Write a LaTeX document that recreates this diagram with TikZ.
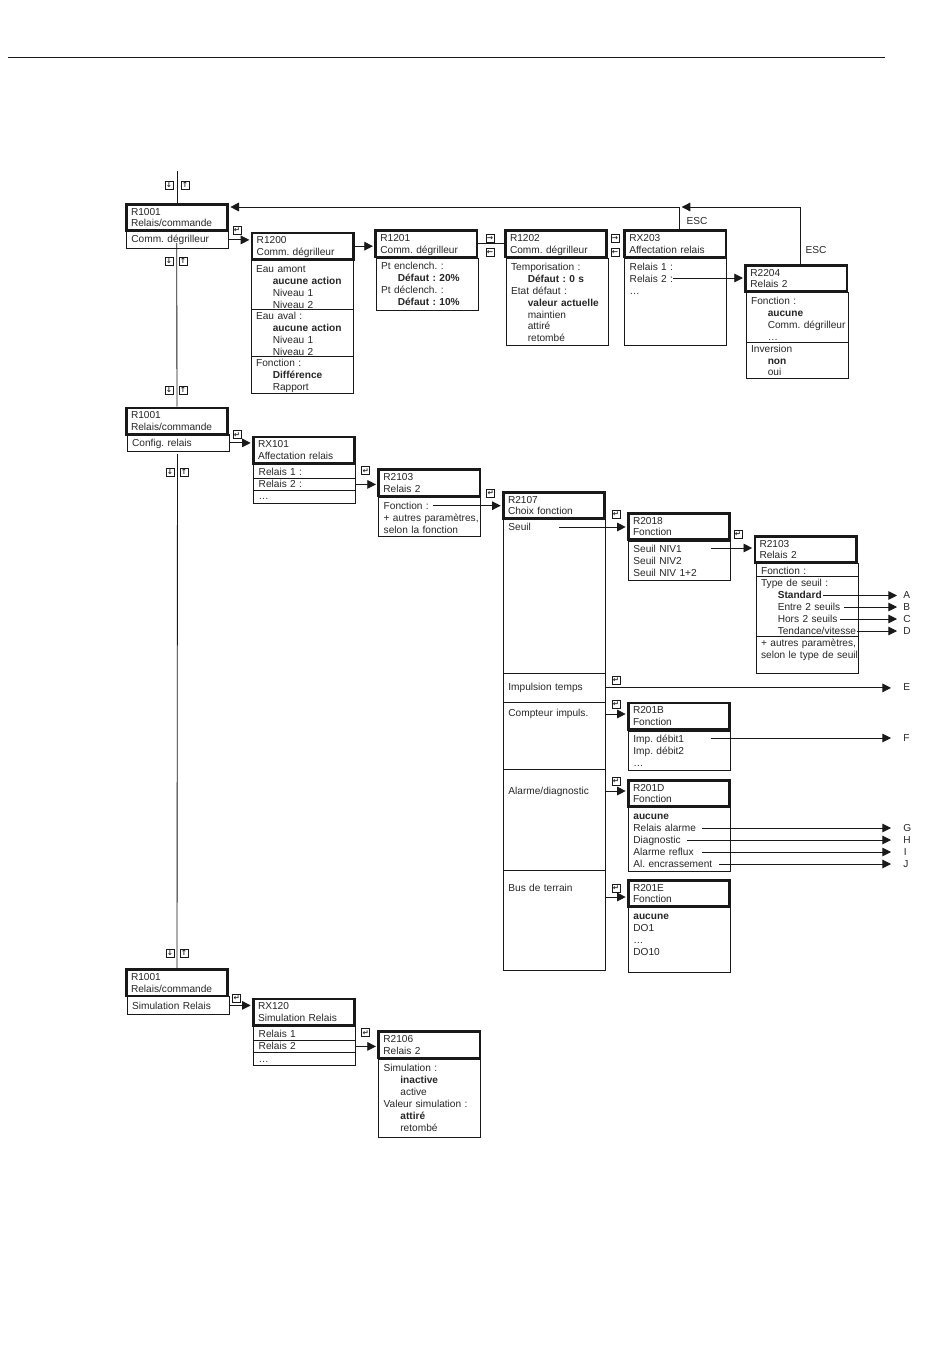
\documentclass[tikz,border=0pt]{standalone}
\usepackage{fontspec}
\setmainfont{Liberation Sans}
\newfontfamily\symfont{DejaVu Sans}
\usetikzlibrary{arrows.meta,positioning,calc}
\newcommand{\ind}{\hspace*{12.5pt}}

\begin{document}
\begin{tikzpicture}[
    x=0.75pt, y=-0.75pt,
    every node/.style={font=\fontsize{7.6}{8.9}\selectfont\frenchspacing, text=black!85},
    headbox/.style={draw=black!90, line width=2pt, anchor=north west, inner xsep=3.5pt, inner ysep=0pt, text width=69pt, align=left, text height=8pt, text depth=11.7pt},
    listbox/.style 2 args={draw=black!90, line width=0.6pt, anchor=north west, inner xsep=3.75pt, inner ysep=0pt, text width=69pt, align=left, text height=#2*0.75pt, text depth=(#1-#2)*0.75pt},
    keybox/.style={draw=black!90, line width=0.4pt, inner sep=0pt, minimum size=6pt, font=\symfont\bfseries\fontsize{5.6}{6}\selectfont},
    letter/.style={anchor=west, inner sep=0pt},
    wire/.style={draw=black!90, line width=0.65pt},
    flow/.style={wire, -{Triangle[length=6.5pt,width=6.5pt]}, shorten >=1pt},
    tofar/.style={flow, shorten >=9pt},
    tonear/.style={flow, shorten >=4.5pt}
]
    \useasboundingbox (0,0) rectangle (950,1370);
    \coordinate (ruleleft) at (8,57);
    \coordinate (ruleright) at (885,57);
    \draw[wire] (ruleleft) -- (ruleright);

    % first R1001 branch
    \node[headbox] (r1001a) at (125,203) {R1001\\Relais/commande};
    \node[listbox={17}{11.5}] (commb) at (126,231) {Comm.~dégrilleur};
    \node[headbox] (r1200) at (250.7,231.7) {R1200\\Comm.~dégrilleur};
    \node[listbox={50}{13.2}] (r1200a) at (250.7,259) {Eau amont\\\ind\textbf{aucune action}\\\ind Niveau 1\\\ind Niveau 2};
    \node[listbox={47}{10.5}] (r1200b) at (250.7,309) {Eau aval :\\\ind\textbf{aucune action}\\\ind Niveau 1\\\ind Niveau 2};
    \node[listbox={37}{10.5}] (r1200c) at (250.7,356) {Fonction :\\\ind\textbf{Différence}\\\ind Rapport};
    \node[headbox] (r1201) at (374.3,229.3) {R1201\\Comm.~dégrilleur};
    \node[listbox={52}{11.5}] (r1201a) at (375.7,258) {Pt enclench. :\\\ind\textbf{Défaut : 20\%}\\Pt déclench. :\\\ind\textbf{Défaut : 10\%}};
    \node[headbox] (r1202) at (504,229.3) {R1202\\Comm.~dégrilleur};
    \node[listbox={87}{12.2}] (r1202a) at (505.7,258) {Temporisation :\\\ind\textbf{Défaut : 0 s}\\Etat défaut :\\\ind\textbf{valeur~actuelle}\\\ind maintien\\\ind attiré\\\ind retombé};
    \node[headbox] (rx203) at (623.3,229.3) {RX203\\Affectation relais};
    \node[listbox={87}{12.2}] (rx203a) at (624.3,258) {Relais 1 :\\Relais 2 :\\…};
    \node[headbox] (r2204) at (744.3,264) {R2204\\Relais 2};
    \node[listbox={50}{12.2}] (r2204a) at (745.7,292) {Fonction :\\\ind\textbf{aucune}\\\ind\mbox{Comm.~dégrilleur}\\\ind …};
    \node[listbox={36}{9.8}] (r2204b) at (745.7,342) {Inversion\\\ind\textbf{non}\\\ind oui};
    \node (esca) at (697,221) {ESC};
    \node (escb) at (816,250) {ESC};

    % second R1001 branch
    \node[headbox] (r1001b) at (125,406.7) {R1001\\Relais/commande};
    \node[listbox={17}{12.5}] (configb) at (126.7,434) {Config. relais};
    \node[headbox] (rx101) at (252,435.7) {RX101\\Affectation relais};
    \node[listbox={15}{12.5}] (rx101a) at (253.3,463) {Relais 1 :};
    \node[listbox={12}{9.2}] (rx101b) at (253.3,478) {Relais 2 :};
    \node[listbox={13}{9.5}] (rx101c) at (253.3,490) {…};
    \node[headbox] (r2103) at (377.3,468.3) {R2103\\Relais 2};
    \node[listbox={39}{12.2}] (r2103a) at (378.3,497.3) {Fonction :\\\mbox{+ autres paramètres,}\\selon la fonction};
    \node[headbox] (r2107) at (502,491) {R2107\\Choix fonction};
    \node[listbox={154}{11.5}] (seuilb) at (503,519) {Seuil};
    \node[listbox={29}{17.5}] (impulsb) at (503,673) {Impulsion temps};
    \node[listbox={67}{14.5}] (comptb) at (503,702) {Compteur impuls.};
    \node[listbox={101}{25.5}] (alarmb) at (503,769) {Alarme/diagnostic};
    \node[listbox={100}{21.5}] (busb) at (503,870) {Bus de terrain};

    \node[headbox] (r2018) at (627,512) {R2018\\Fonction};
    \node[listbox={39}{11.5}] (r2018a) at (628,541) {Seuil NIV1\\Seuil NIV2\\Seuil NIV 1+2};
    \node[headbox] (r2103b) at (753.5,535) {R2103\\Relais 2};
    \node[listbox={13}{11.5}] (r2103c) at (755.7,563) {Fonction :};
    \node[listbox={60}{10.5}] (r2103d) at (755.7,576) {Type de seuil :\\\ind\textbf{Standard}\\\ind Entre 2 seuils\\\ind Hors 2 seuils\\\ind\mbox{Tendance/vitesse}};
    \node[listbox={37}{10.5}] (r2103e) at (755.7,636) {\mbox{+ autres paramètres,}\\\mbox{selon le type de seuil}};
    \node[headbox] (r201b) at (627,701.7) {R201B\\Fonction};
    \node[listbox={39}{11.5}] (r201ba) at (628,731) {Imp. débit1\\Imp. débit2\\…};
    \node[headbox] (r201d) at (627,779) {R201D\\Fonction};
    \node[listbox={64}{12.5}] (r201da) at (628,807) {\textbf{aucune}\\Relais alarme\\Diagnostic\\Alarme reflux\\Al. encrassement};
    \node[headbox] (r201e) at (627,879) {R201E\\Fonction};
    \node[listbox={65}{12}] (r201ea) at (628,907) {\textbf{aucune}\\DO1\\…\\DO10};

    \node[letter] (lbla) at (903,595.5) {A};
    \node[letter] (lblb) at (903,607) {B};
    \node[letter] (lblc) at (903,619) {C};
    \node[letter] (lbld) at (903,631) {D};
    \node[letter] (lble) at (903,687.5) {E};
    \node[letter] (lblf) at (903,738) {F};
    \node[letter] (lblg) at (903,828) {G};
    \node[letter] (lblh) at (903,840) {H};
    \node[letter] (lbli) at (903.5,852) {I};
    \node[letter] (lblj) at (903,864) {J};

    % third R1001 branch
    \node[headbox] (r1001c) at (125,968.3) {R1001\\Relais/commande};
    \node[listbox={18}{13}] (simb) at (126.7,996) {Simulation Relais};
    \node[headbox] (rx120) at (252,997.7) {RX120\\Simulation Relais};
    \node[listbox={14}{11.5}] (rx120a) at (253.3,1026) {Relais 1};
    \node[listbox={12}{9.5}] (rx120b) at (253.3,1040) {Relais 2};
    \node[listbox={13}{9.5}] (rx120c) at (253.3,1052.3) {…};
    \node[headbox] (r2106) at (377.3,1030.3) {R2106\\Relais 2};
    \node[listbox={77.4}{12.2}] (r2106a) at (378.3,1059.3) {Simulation :\\\ind\textbf{inactive}\\\ind active\\Valeur simulation :\\\ind\textbf{attiré}\\\ind retombé};

    % keys
    \node[keybox] (kd1) at (169,185) {↓};
    \node[keybox] (ku1) at (185,185) {↑};
    \node[keybox] (kd2) at (169,261) {↓};
    \node[keybox] (ku2) at (183,261) {↑};
    \node[keybox] (kd3) at (169,390) {↓};
    \node[keybox] (ku3) at (183,390) {↑};
    \node[keybox] (kd4) at (170,472) {↓};
    \node[keybox] (ku4) at (184,472) {↑};
    \node[keybox] (kd5) at (170,953) {↓};
    \node[keybox] (ku5) at (184,953) {↑};
    \node[keybox] (ke1) at (237,230) {↵};
    \node[keybox] (kr1) at (490,238) {→};
    \node[keybox] (kl1) at (490,252) {←};
    \node[keybox] (kr2) at (615,238) {→};
    \node[keybox] (kl2) at (615,252) {←};
    \node[keybox] (ke2) at (237,434.7) {↵};
    \node[keybox] (ke3) at (365.7,470.7) {↵};
    \node[keybox] (ke4) at (490.7,493.3) {↵};
    \node[keybox] (ke5) at (616,514) {↵};
    \node[keybox] (ke6) at (738,534) {↵};
    \node[keybox] (ke7) at (616,680) {↵};
    \node[keybox] (ke8) at (616,704) {↵};
    \node[keybox] (ke9) at (616,781) {↵};
    \node[keybox] (ke10) at (616,888) {↵};
    \node[keybox] (ke11) at (236.7,998) {↵};
    \node[keybox] (ke12) at (365.7,1032.7) {↵};

    % free ends of connectors
    \coordinate (navtop) at (177,171);
    \coordinate (navmid) at (176.7,243);
    \coordinate (navlow) at (177.5,454);
    \coordinate (escone) at (679,230);
    \coordinate (escturn) at (679,207);
    \coordinate (esctwo) at (800.7,264);
    \coordinate (escbend) at (800.7,207);
    \coordinate (fromrelais) at (673,278);
    \coordinate (fromfonction) at (433.3,505.7);
    \coordinate (fromseuil) at (559,527);
    \coordinate (fromniv) at (710.7,548);
    \coordinate (fromstd) at (822.7,595.5);
    \coordinate (fromentre) at (844,607);
    \coordinate (fromhors) at (840,619);
    \coordinate (fromtend) at (856.7,631);
    \coordinate (fromcompt) at (606,714);
    \coordinate (fromdebit) at (710.7,738);
    \coordinate (fromalarm) at (606,791);
    \coordinate (fromrelal) at (702,828);
    \coordinate (fromdiag) at (687,840);
    \coordinate (fromreflux) at (702,852);
    \coordinate (fromencr) at (719,864);
    \coordinate (frombus) at (606,897);

    % connectors
    \draw[wire] (navtop) -- (r1001a.north);
    \draw[wire] (navmid) -- (r1001b.north);
    \draw[wire] (navlow) -- (r1001c.north);
    \draw[flow] (commb.east) -- (commb.east -| r1200.west);
    \draw[flow] (r1200.east) -- (r1200.east -| r1201.west);
    \draw[wire] (r1201.east) -- (r1201.east -| r1202.west);
    \draw[flow] (escone) -- (escturn) -- (escturn -| r1001a.east);
    \draw[flow, shorten >=2pt] (esctwo) -- (escbend) -- (escturn);
    \draw[flow] (fromrelais) -- (fromrelais -| r2204.west);
    \draw[flow] (configb.east) -- (configb.east -| rx101.west);
    \draw[flow] (rx101b.east) -- (rx101b.east -| r2103.west);
    \draw[flow] (fromfonction) -- (fromfonction -| r2107.west);
    \draw[flow] (fromseuil) -- (fromseuil -| r2018.west);
    \draw[flow] (fromniv) -- (fromniv -| r2103b.west);
    \draw[tonear] (fromstd) -- (fromstd -| lbla.west);
    \draw[tonear] (fromentre) -- (fromentre -| lblb.west);
    \draw[tonear] (fromhors) -- (fromhors -| lblc.west);
    \draw[tonear] (fromtend) -- (fromtend -| lbld.west);
    \draw[tofar] (impulsb.east) -- (impulsb.east -| lble.west);
    \draw[flow] (fromcompt) -- (fromcompt -| r201b.west);
    \draw[tofar] (fromdebit) -- (fromdebit -| lblf.west);
    \draw[flow] (fromalarm) -- (fromalarm -| r201d.west);
    \draw[tofar] (fromrelal) -- (fromrelal -| lblg.west);
    \draw[tofar] (fromdiag) -- (fromdiag -| lblh.west);
    \draw[tofar] (fromreflux) -- (fromreflux -| lblg.west);
    \draw[tofar] (fromencr) -- (fromencr -| lblj.west);
    \draw[flow] (frombus) -- (frombus -| r201e.west);
    \draw[flow] (simb.east) -- (simb.east -| rx120.west);
    \draw[flow] (rx120b.east) -- (rx120b.east -| r2106.west);
\end{tikzpicture}
\end{document}
